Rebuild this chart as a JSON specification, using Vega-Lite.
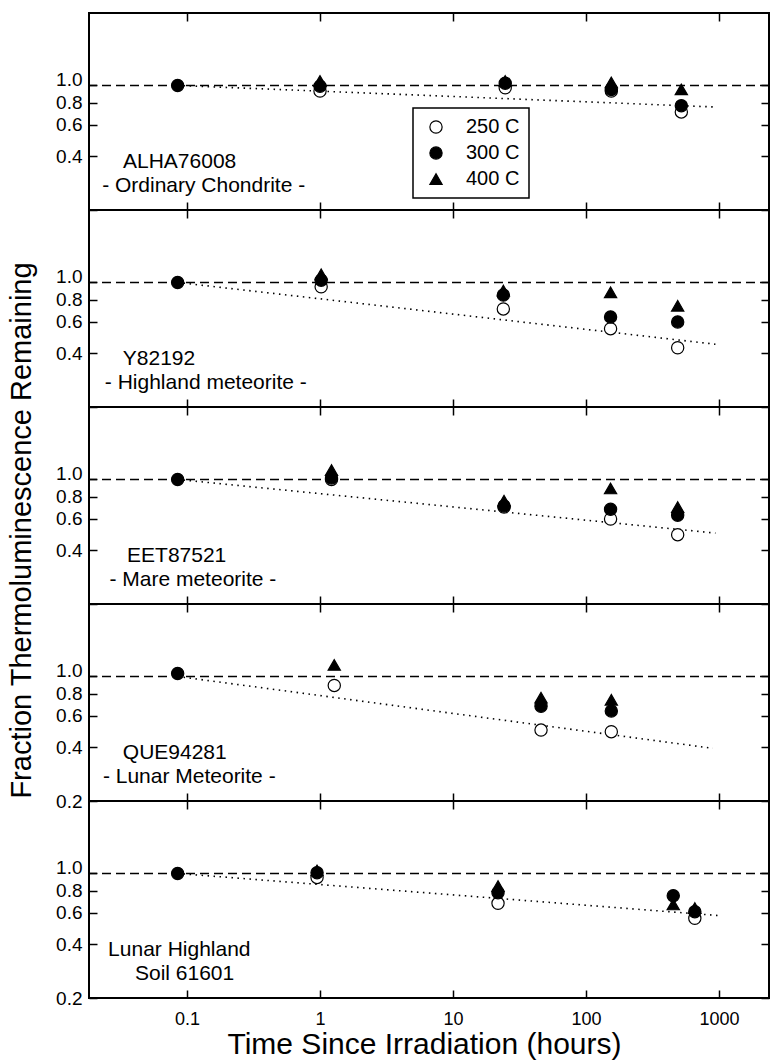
{
  "$schema": "https://vega.github.io/schema/vega-lite/v6.json",
  "padding": {"left": 5, "top": 11, "right": 0, "bottom": 0},
  "bounds": "flush",
  "spacing": 0,
  "datasets": {
    "one": [{"ref": 1}],
    "pts": [
      {"panel": 1, "t": 1.0, "v": 0.93, "temp": "250 C"},
      {"panel": 1, "t": 24.7, "v": 0.97, "temp": "250 C"},
      {"panel": 1, "t": 155, "v": 0.93, "temp": "250 C"},
      {"panel": 1, "t": 521, "v": 0.71, "temp": "250 C"},
      {"panel": 1, "t": 1.0, "v": 1.06, "temp": "400 C"},
      {"panel": 1, "t": 24.7, "v": 1.06, "temp": "400 C"},
      {"panel": 1, "t": 155, "v": 1.04, "temp": "400 C"},
      {"panel": 1, "t": 521, "v": 0.95, "temp": "400 C"},
      {"panel": 1, "t": 0.085, "v": 1.0, "temp": "300 C"},
      {"panel": 1, "t": 1.0, "v": 0.99, "temp": "300 C"},
      {"panel": 1, "t": 24.7, "v": 1.03, "temp": "300 C"},
      {"panel": 1, "t": 155, "v": 0.95, "temp": "300 C"},
      {"panel": 1, "t": 521, "v": 0.77, "temp": "300 C"},

      {"panel": 2, "t": 1.02, "v": 0.945, "temp": "250 C"},
      {"panel": 2, "t": 23.9, "v": 0.71, "temp": "250 C"},
      {"panel": 2, "t": 153, "v": 0.55, "temp": "250 C"},
      {"panel": 2, "t": 489, "v": 0.43, "temp": "250 C"},
      {"panel": 2, "t": 1.02, "v": 1.11, "temp": "400 C"},
      {"panel": 2, "t": 23.9, "v": 0.9, "temp": "400 C"},
      {"panel": 2, "t": 153, "v": 0.88, "temp": "400 C"},
      {"panel": 2, "t": 489, "v": 0.74, "temp": "400 C"},
      {"panel": 2, "t": 0.085, "v": 1.0, "temp": "300 C"},
      {"panel": 2, "t": 1.02, "v": 1.03, "temp": "300 C"},
      {"panel": 2, "t": 23.9, "v": 0.85, "temp": "300 C"},
      {"panel": 2, "t": 153, "v": 0.64, "temp": "300 C"},
      {"panel": 2, "t": 489, "v": 0.6, "temp": "300 C"},

      {"panel": 3, "t": 1.22, "v": 1.0, "temp": "250 C"},
      {"panel": 3, "t": 24.2, "v": 0.7, "temp": "250 C"},
      {"panel": 3, "t": 153, "v": 0.6, "temp": "250 C"},
      {"panel": 3, "t": 489, "v": 0.49, "temp": "250 C"},
      {"panel": 3, "t": 1.22, "v": 1.13, "temp": "400 C"},
      {"panel": 3, "t": 24.2, "v": 0.76, "temp": "400 C"},
      {"panel": 3, "t": 153, "v": 0.89, "temp": "400 C"},
      {"panel": 3, "t": 489, "v": 0.7, "temp": "400 C"},
      {"panel": 3, "t": 0.085, "v": 1.0, "temp": "300 C"},
      {"panel": 3, "t": 1.22, "v": 1.02, "temp": "300 C"},
      {"panel": 3, "t": 24.2, "v": 0.71, "temp": "300 C"},
      {"panel": 3, "t": 153, "v": 0.68, "temp": "300 C"},
      {"panel": 3, "t": 489, "v": 0.63, "temp": "300 C"},

      {"panel": 4, "t": 1.28, "v": 0.89, "temp": "250 C"},
      {"panel": 4, "t": 45.9, "v": 0.5, "temp": "250 C"},
      {"panel": 4, "t": 155, "v": 0.49, "temp": "250 C"},
      {"panel": 4, "t": 1.28, "v": 1.16, "temp": "400 C"},
      {"panel": 4, "t": 45.9, "v": 0.76, "temp": "400 C"},
      {"panel": 4, "t": 155, "v": 0.74, "temp": "400 C"},
      {"panel": 4, "t": 0.085, "v": 1.04, "temp": "300 C"},
      {"panel": 4, "t": 45.9, "v": 0.68, "temp": "300 C"},
      {"panel": 4, "t": 155, "v": 0.64, "temp": "300 C"},

      {"panel": 5, "t": 0.95, "v": 0.95, "temp": "250 C"},
      {"panel": 5, "t": 21.8, "v": 0.68, "temp": "250 C"},
      {"panel": 5, "t": 658, "v": 0.56, "temp": "250 C"},
      {"panel": 5, "t": 0.95, "v": 1.04, "temp": "400 C"},
      {"panel": 5, "t": 21.8, "v": 0.85, "temp": "400 C"},
      {"panel": 5, "t": 453, "v": 0.67, "temp": "400 C"},
      {"panel": 5, "t": 658, "v": 0.64, "temp": "400 C"},
      {"panel": 5, "t": 0.085, "v": 1.0, "temp": "300 C"},
      {"panel": 5, "t": 0.95, "v": 1.01, "temp": "300 C"},
      {"panel": 5, "t": 21.8, "v": 0.78, "temp": "300 C"},
      {"panel": 5, "t": 453, "v": 0.75, "temp": "300 C"},
      {"panel": 5, "t": 658, "v": 0.61, "temp": "300 C"}
    ],
    "fits": [
      {"panel": 1, "t": 0.085, "v": 1.0},
      {"panel": 1, "t": 970, "v": 0.756},
      {"panel": 2, "t": 0.085, "v": 1.0},
      {"panel": 2, "t": 940, "v": 0.45},
      {"panel": 3, "t": 0.085, "v": 1.0},
      {"panel": 3, "t": 940, "v": 0.5},
      {"panel": 4, "t": 0.085, "v": 1.0},
      {"panel": 4, "t": 900, "v": 0.395},
      {"panel": 5, "t": 0.085, "v": 1.0},
      {"panel": 5, "t": 1000, "v": 0.58}
    ],
    "labels": [
      {"panel": 1, "t": 0.033, "v": 0.344, "text": "ALHA76008"},
      {"panel": 1, "t": 0.023, "v": 0.253, "text": "- Ordinary Chondrite -"},
      {"panel": 2, "t": 0.0329, "v": 0.344, "text": "Y82192"},
      {"panel": 2, "t": 0.0241, "v": 0.253, "text": "- Highland meteorite -"},
      {"panel": 3, "t": 0.0354, "v": 0.344, "text": "EET87521"},
      {"panel": 3, "t": 0.0261, "v": 0.253, "text": "- Mare meteorite -"},
      {"panel": 4, "t": 0.0329, "v": 0.344, "text": "QUE94281"},
      {"panel": 4, "t": 0.0233, "v": 0.253, "text": "- Lunar Meteorite -"},
      {"panel": 5, "t": 0.0255, "v": 0.344, "text": "Lunar Highland"},
      {"panel": 5, "t": 0.0406, "v": 0.253, "text": "Soil 61601"}
    ]
  },
  "vconcat": [
    {
      "width": 680, "height": 197,
      "layer": [
        {"data": {"name": "one"},
         "mark": {"type": "rule", "strokeDash": [9, 5], "strokeWidth": 1.5, "color": "black"},
         "encoding": {"y": {"field": "ref", "type": "quantitative", "scale": {"type": "log", "domain": [0.2, 2.55], "nice": false}, "axis": null}}},
        {"data": {"name": "fits"}, "transform": [{"filter": "datum.panel == 1"}],
         "mark": {"type": "line", "strokeDash": [1.5, 4.5], "strokeWidth": 1.6, "color": "black"},
         "encoding": {
           "x": {"field": "t", "type": "quantitative", "scale": {"type": "log", "domain": [0.01832, 2377], "nice": false}, "axis": {"orient": "top", "values": [0.1, 1, 10, 100, 1000], "labels": false, "title": null}},
           "y": {"field": "v", "type": "quantitative", "scale": {"type": "log", "domain": [0.2, 2.55], "nice": false}, "axis": {"orient": "right", "values": [0.2, 0.4, 0.6, 0.8, 1.0], "labels": false, "title": null}}}},
        {"data": {"name": "pts"}, "transform": [{"filter": "datum.panel == 1"}],
         "mark": {"type": "point", "filled": true, "size": 150, "stroke": "black", "strokeWidth": 1.2, "opacity": 1},
         "encoding": {
           "x": {"field": "t", "type": "quantitative", "scale": {"type": "log", "domain": [0.01832, 2377], "nice": false}, "axis": {"orient": "bottom", "values": [0.1, 1, 10, 100, 1000], "labels": false, "title": null}},
           "y": {"field": "v", "type": "quantitative", "scale": {"type": "log", "domain": [0.2, 2.55], "nice": false}, "axis": {"orient": "left", "values": [0.2, 0.4, 0.6, 0.8, 1.0], "format": ".1f", "labelPadding": 15, "labelOffset": {"condition": {"test": "datum.value == 1", "value": -6}, "value": 0}, "labelExpr": "datum.value < 0.3 ? '' : datum.label", "title": null}},
           "color": {"field": "temp", "type": "nominal", "scale": {"domain": ["250 C", "300 C", "400 C"], "range": ["white", "black", "black"]}, "legend": {"title": null, "orient": "none", "legendX": 324, "legendY": 95}},
           "shape": {"field": "temp", "type": "nominal", "scale": {"domain": ["250 C", "300 C", "400 C"], "range": ["circle", "circle", "triangle-up"]}, "legend": {"title": null, "orient": "none", "legendX": 324, "legendY": 95}}}},
        {"data": {"name": "labels"}, "transform": [{"filter": "datum.panel == 1"}],
         "mark": {"type": "text", "align": "left", "baseline": "alphabetic", "fontSize": 21, "font": "Liberation Sans", "color": "black"},
         "encoding": {
           "x": {"field": "t", "type": "quantitative", "scale": {"type": "log", "domain": [0.01832, 2377], "nice": false}, "axis": null},
           "y": {"field": "v", "type": "quantitative", "scale": {"type": "log", "domain": [0.2, 2.55], "nice": false}, "axis": null},
           "text": {"field": "text"}}}
      ],
      "resolve": {"axis": {"x": "independent", "y": "independent"}}
    },
    {
      "width": 680, "height": 197,
      "layer": [
        {"data": {"name": "one"},
         "mark": {"type": "rule", "strokeDash": [9, 5], "strokeWidth": 1.5, "color": "black"},
         "encoding": {"y": {"field": "ref", "type": "quantitative", "scale": {"type": "log", "domain": [0.2, 2.55], "nice": false}, "axis": null}}},
        {"data": {"name": "fits"}, "transform": [{"filter": "datum.panel == 2"}],
         "mark": {"type": "line", "strokeDash": [1.5, 4.5], "strokeWidth": 1.6, "color": "black"},
         "encoding": {
           "x": {"field": "t", "type": "quantitative", "scale": {"type": "log", "domain": [0.01832, 2377], "nice": false}, "axis": {"orient": "top", "values": [0.1, 1, 10, 100, 1000], "labels": false, "title": null}},
           "y": {"field": "v", "type": "quantitative", "scale": {"type": "log", "domain": [0.2, 2.55], "nice": false}, "axis": {"orient": "right", "values": [0.2, 0.4, 0.6, 0.8, 1.0], "labels": false, "title": null}}}},
        {"data": {"name": "pts"}, "transform": [{"filter": "datum.panel == 2"}],
         "mark": {"type": "point", "filled": true, "size": 150, "stroke": "black", "strokeWidth": 1.2, "opacity": 1},
         "encoding": {
           "x": {"field": "t", "type": "quantitative", "scale": {"type": "log", "domain": [0.01832, 2377], "nice": false}, "axis": {"orient": "bottom", "values": [0.1, 1, 10, 100, 1000], "labels": false, "title": null}},
           "y": {"field": "v", "type": "quantitative", "scale": {"type": "log", "domain": [0.2, 2.55], "nice": false}, "axis": {"orient": "left", "values": [0.2, 0.4, 0.6, 0.8, 1.0], "format": ".1f", "labelPadding": 15, "labelOffset": {"condition": {"test": "datum.value == 1", "value": -6}, "value": 0}, "labelExpr": "datum.value < 0.3 ? '' : datum.label", "title": null}},
           "color": {"field": "temp", "type": "nominal", "scale": {"domain": ["250 C", "300 C", "400 C"], "range": ["white", "black", "black"]}, "legend": null},
           "shape": {"field": "temp", "type": "nominal", "scale": {"domain": ["250 C", "300 C", "400 C"], "range": ["circle", "circle", "triangle-up"]}, "legend": null}}},
        {"data": {"name": "labels"}, "transform": [{"filter": "datum.panel == 2"}],
         "mark": {"type": "text", "align": "left", "baseline": "alphabetic", "fontSize": 21, "font": "Liberation Sans", "color": "black"},
         "encoding": {
           "x": {"field": "t", "type": "quantitative", "scale": {"type": "log", "domain": [0.01832, 2377], "nice": false}, "axis": null},
           "y": {"field": "v", "type": "quantitative", "scale": {"type": "log", "domain": [0.2, 2.55], "nice": false}, "axis": null},
           "text": {"field": "text"}}}
      ],
      "resolve": {"axis": {"x": "independent", "y": "independent"}}
    },
    {
      "width": 680, "height": 197,
      "layer": [
        {"data": {"name": "one"},
         "mark": {"type": "rule", "strokeDash": [9, 5], "strokeWidth": 1.5, "color": "black"},
         "encoding": {"y": {"field": "ref", "type": "quantitative", "scale": {"type": "log", "domain": [0.2, 2.55], "nice": false}, "axis": null}}},
        {"data": {"name": "fits"}, "transform": [{"filter": "datum.panel == 3"}],
         "mark": {"type": "line", "strokeDash": [1.5, 4.5], "strokeWidth": 1.6, "color": "black"},
         "encoding": {
           "x": {"field": "t", "type": "quantitative", "scale": {"type": "log", "domain": [0.01832, 2377], "nice": false}, "axis": {"orient": "top", "values": [0.1, 1, 10, 100, 1000], "labels": false, "title": null}},
           "y": {"field": "v", "type": "quantitative", "scale": {"type": "log", "domain": [0.2, 2.55], "nice": false}, "axis": {"orient": "right", "values": [0.2, 0.4, 0.6, 0.8, 1.0], "labels": false, "title": null}}}},
        {"data": {"name": "pts"}, "transform": [{"filter": "datum.panel == 3"}],
         "mark": {"type": "point", "filled": true, "size": 150, "stroke": "black", "strokeWidth": 1.2, "opacity": 1},
         "encoding": {
           "x": {"field": "t", "type": "quantitative", "scale": {"type": "log", "domain": [0.01832, 2377], "nice": false}, "axis": {"orient": "bottom", "values": [0.1, 1, 10, 100, 1000], "labels": false, "title": null}},
           "y": {"field": "v", "type": "quantitative", "scale": {"type": "log", "domain": [0.2, 2.55], "nice": false}, "axis": {"orient": "left", "values": [0.2, 0.4, 0.6, 0.8, 1.0], "format": ".1f", "labelPadding": 15, "labelOffset": {"condition": {"test": "datum.value == 1", "value": -6}, "value": 0}, "labelExpr": "datum.value < 0.3 ? '' : datum.label", "title": "Fraction Thermoluminescence Remaining", "titleFontSize": 29, "titleX": -59, "titleY": 123, "titleAngle": 270, "titleAlign": "center", "titleBaseline": "alphabetic"}},
           "color": {"field": "temp", "type": "nominal", "scale": {"domain": ["250 C", "300 C", "400 C"], "range": ["white", "black", "black"]}, "legend": null},
           "shape": {"field": "temp", "type": "nominal", "scale": {"domain": ["250 C", "300 C", "400 C"], "range": ["circle", "circle", "triangle-up"]}, "legend": null}}},
        {"data": {"name": "labels"}, "transform": [{"filter": "datum.panel == 3"}],
         "mark": {"type": "text", "align": "left", "baseline": "alphabetic", "fontSize": 21, "font": "Liberation Sans", "color": "black"},
         "encoding": {
           "x": {"field": "t", "type": "quantitative", "scale": {"type": "log", "domain": [0.01832, 2377], "nice": false}, "axis": null},
           "y": {"field": "v", "type": "quantitative", "scale": {"type": "log", "domain": [0.2, 2.55], "nice": false}, "axis": null},
           "text": {"field": "text"}}}
      ],
      "resolve": {"axis": {"x": "independent", "y": "independent"}}
    },
    {
      "width": 680, "height": 197,
      "layer": [
        {"data": {"name": "one"},
         "mark": {"type": "rule", "strokeDash": [9, 5], "strokeWidth": 1.5, "color": "black"},
         "encoding": {"y": {"field": "ref", "type": "quantitative", "scale": {"type": "log", "domain": [0.2, 2.55], "nice": false}, "axis": null}}},
        {"data": {"name": "fits"}, "transform": [{"filter": "datum.panel == 4"}],
         "mark": {"type": "line", "strokeDash": [1.5, 4.5], "strokeWidth": 1.6, "color": "black"},
         "encoding": {
           "x": {"field": "t", "type": "quantitative", "scale": {"type": "log", "domain": [0.01832, 2377], "nice": false}, "axis": {"orient": "top", "values": [0.1, 1, 10, 100, 1000], "labels": false, "title": null}},
           "y": {"field": "v", "type": "quantitative", "scale": {"type": "log", "domain": [0.2, 2.55], "nice": false}, "axis": {"orient": "right", "values": [0.2, 0.4, 0.6, 0.8, 1.0], "labels": false, "title": null}}}},
        {"data": {"name": "pts"}, "transform": [{"filter": "datum.panel == 4"}],
         "mark": {"type": "point", "filled": true, "size": 150, "stroke": "black", "strokeWidth": 1.2, "opacity": 1},
         "encoding": {
           "x": {"field": "t", "type": "quantitative", "scale": {"type": "log", "domain": [0.01832, 2377], "nice": false}, "axis": {"orient": "bottom", "values": [0.1, 1, 10, 100, 1000], "labels": false, "title": null}},
           "y": {"field": "v", "type": "quantitative", "scale": {"type": "log", "domain": [0.2, 2.55], "nice": false}, "axis": {"orient": "left", "values": [0.2, 0.4, 0.6, 0.8, 1.0], "format": ".1f", "labelPadding": 15, "labelOffset": {"condition": {"test": "datum.value == 1", "value": -6}, "value": 0}, "title": null}},
           "color": {"field": "temp", "type": "nominal", "scale": {"domain": ["250 C", "300 C", "400 C"], "range": ["white", "black", "black"]}, "legend": null},
           "shape": {"field": "temp", "type": "nominal", "scale": {"domain": ["250 C", "300 C", "400 C"], "range": ["circle", "circle", "triangle-up"]}, "legend": null}}},
        {"data": {"name": "labels"}, "transform": [{"filter": "datum.panel == 4"}],
         "mark": {"type": "text", "align": "left", "baseline": "alphabetic", "fontSize": 21, "font": "Liberation Sans", "color": "black"},
         "encoding": {
           "x": {"field": "t", "type": "quantitative", "scale": {"type": "log", "domain": [0.01832, 2377], "nice": false}, "axis": null},
           "y": {"field": "v", "type": "quantitative", "scale": {"type": "log", "domain": [0.2, 2.55], "nice": false}, "axis": null},
           "text": {"field": "text"}}}
      ],
      "resolve": {"axis": {"x": "independent", "y": "independent"}}
    },
    {
      "width": 680, "height": 197,
      "layer": [
        {"data": {"name": "one"},
         "mark": {"type": "rule", "strokeDash": [9, 5], "strokeWidth": 1.5, "color": "black"},
         "encoding": {"y": {"field": "ref", "type": "quantitative", "scale": {"type": "log", "domain": [0.2, 2.55], "nice": false}, "axis": null}}},
        {"data": {"name": "fits"}, "transform": [{"filter": "datum.panel == 5"}],
         "mark": {"type": "line", "strokeDash": [1.5, 4.5], "strokeWidth": 1.6, "color": "black"},
         "encoding": {
           "x": {"field": "t", "type": "quantitative", "scale": {"type": "log", "domain": [0.01832, 2377], "nice": false}, "axis": {"orient": "top", "values": [0.1, 1, 10, 100, 1000], "labels": false, "title": null}},
           "y": {"field": "v", "type": "quantitative", "scale": {"type": "log", "domain": [0.2, 2.55], "nice": false}, "axis": {"orient": "right", "values": [0.2, 0.4, 0.6, 0.8, 1.0], "labels": false, "title": null}}}},
        {"data": {"name": "pts"}, "transform": [{"filter": "datum.panel == 5"}],
         "mark": {"type": "point", "filled": true, "size": 150, "stroke": "black", "strokeWidth": 1.2, "opacity": 1},
         "encoding": {
           "x": {"field": "t", "type": "quantitative", "scale": {"type": "log", "domain": [0.01832, 2377], "nice": false}, "axis": {"orient": "bottom", "values": [0.1, 1, 10, 100, 1000], "format": "~g", "labelFontSize": 18, "labelPadding": 20, "title": "Time Since Irradiation (hours)", "titleFontSize": 30, "titleX": 335, "titleY": 55, "titleAlign": "center", "titleBaseline": "alphabetic"}},
           "y": {"field": "v", "type": "quantitative", "scale": {"type": "log", "domain": [0.2, 2.55], "nice": false}, "axis": {"orient": "left", "values": [0.2, 0.4, 0.6, 0.8, 1.0], "format": ".1f", "labelPadding": 15, "labelOffset": {"condition": {"test": "datum.value == 1", "value": -6}, "value": 0}, "title": null}},
           "color": {"field": "temp", "type": "nominal", "scale": {"domain": ["250 C", "300 C", "400 C"], "range": ["white", "black", "black"]}, "legend": null},
           "shape": {"field": "temp", "type": "nominal", "scale": {"domain": ["250 C", "300 C", "400 C"], "range": ["circle", "circle", "triangle-up"]}, "legend": null}}},
        {"data": {"name": "labels"}, "transform": [{"filter": "datum.panel == 5"}],
         "mark": {"type": "text", "align": "left", "baseline": "alphabetic", "fontSize": 21, "font": "Liberation Sans", "color": "black"},
         "encoding": {
           "x": {"field": "t", "type": "quantitative", "scale": {"type": "log", "domain": [0.01832, 2377], "nice": false}, "axis": null},
           "y": {"field": "v", "type": "quantitative", "scale": {"type": "log", "domain": [0.2, 2.55], "nice": false}, "axis": null},
           "text": {"field": "text"}}}
      ],
      "resolve": {"axis": {"x": "independent", "y": "independent"}}
    }
  ],
  "resolve": {
    "scale": {"x": "independent", "y": "independent", "color": "independent", "shape": "independent"},
    "axis": {"x": "independent", "y": "independent"},
    "legend": {"color": "independent", "shape": "independent"}
  },
  "config": {
    "font": "Liberation Sans",
    "view": {"stroke": "black", "strokeWidth": 2},
    "axis": {"grid": false, "domain": false, "tickColor": "black", "tickWidth": 1.5, "tickSize": -8, "labelColor": "black", "labelFont": "Liberation Sans", "labelFontSize": 19, "titleColor": "black", "titleFont": "Liberation Sans", "titleFontWeight": "normal", "labelFlush": false, "labelOverlap": false},
    "legend": {"strokeColor": "black", "strokeWidth": 1.5, "fillColor": "white", "padding": 9, "labelFontSize": 20, "labelFont": "Liberation Sans", "labelColor": "black", "symbolSize": 150, "symbolStrokeColor": "black", "symbolStrokeWidth": 1.2, "rowPadding": 6, "labelOffset": 20, "symbolOffset": 4}
  }
}
